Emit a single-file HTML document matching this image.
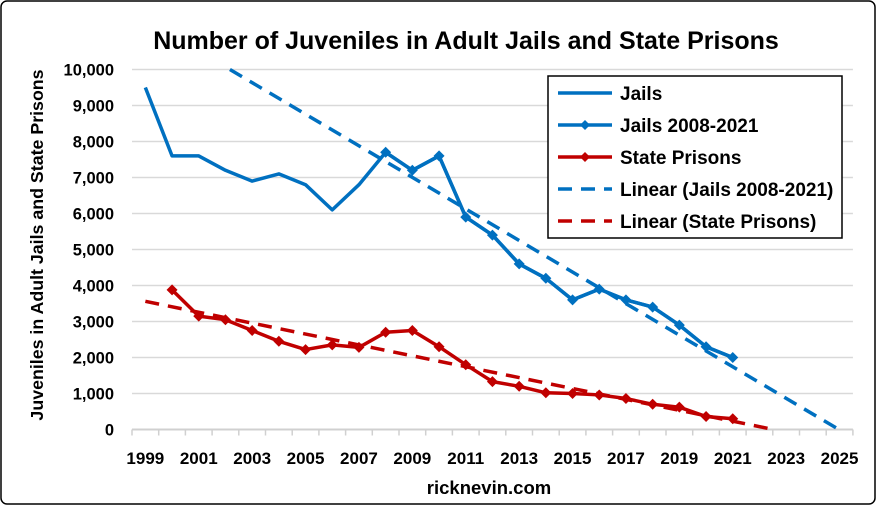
<!DOCTYPE html>
<html><head><meta charset="utf-8"><style>
body{margin:0;background:#fff;}
svg{display:block;font-family:"Liberation Sans",sans-serif;}
</style></head><body>
<svg id="c" width="876" height="505">
<rect x="1" y="1" width="874" height="503" rx="6" fill="#fff" stroke="#000" stroke-width="1.5"/>
<text x="466" y="49" text-anchor="middle" font-size="25" font-weight="bold">Number of Juveniles in Adult Jails and State Prisons</text>
<text transform="translate(43,245) rotate(-90)" text-anchor="middle" font-size="17.8" font-weight="bold">Juveniles in Adult Jails and State Prisons</text>
<text x="489" y="494" text-anchor="middle" font-size="18.5" font-weight="bold">ricknevin.com</text>
<g id="grid"></g><g id="axes"></g><g id="series"></g>
<g>
<rect x="548" y="76" width="294" height="162" fill="#fff" stroke="#000" stroke-width="1.5"/>
<g font-size="19" font-weight="bold">
<line x1="558" y1="93" x2="612" y2="93" stroke="#0070C0" stroke-width="3.5"/>
<text x="620" y="100">Jails</text>
<line x1="558" y1="125" x2="612" y2="125" stroke="#0070C0" stroke-width="3.5"/>
<path d="M585 120 L590 125 L585 130 L580 125Z" fill="#0070C0"/>
<text x="620" y="132">Jails 2008-2021</text>
<line x1="558" y1="157" x2="612" y2="157" stroke="#C00000" stroke-width="3.5"/>
<path d="M585 152 L590 157 L585 162 L580 157Z" fill="#C00000"/>
<text x="620" y="164">State Prisons</text>
<line x1="558" y1="189" x2="612" y2="189" stroke="#0070C0" stroke-width="3.5" stroke-dasharray="14,9"/>
<text x="620" y="196">Linear (Jails 2008-2021)</text>
<line x1="558" y1="221" x2="612" y2="221" stroke="#C00000" stroke-width="3.5" stroke-dasharray="14,9"/>
<text x="620" y="228">Linear (State Prisons)</text>
</g></g>
</svg>
<script>
const years=[];for(let y=1999;y<=2025;y++)years.push(y);
const yTicks=[0,1000,2000,3000,4000,5000,6000,7000,8000,9000,10000];
const jailYears=[1999,2000,2001,2002,2003,2004,2005,2006,2007,2008,2009,2010,2011,2012,2013,2014,2015,2016,2017,2018,2019,2020,2021];
const jailVals=[9500,7600,7600,7200,6900,7100,6800,6100,6800,7700,7200,7600,5900,5400,4600,4200,3600,3900,3600,3400,2900,2300,2000];
const jail2Years=[2008,2009,2010,2011,2012,2013,2014,2015,2016,2017,2018,2019,2020,2021];
const jail2Vals=[7700,7200,7600,5900,5400,4600,4200,3600,3900,3600,3400,2900,2300,2000];
const stateYears=[2000,2001,2002,2003,2004,2005,2006,2007,2008,2009,2010,2011,2012,2013,2014,2015,2016,2017,2018,2019,2020,2021];
const stateVals=[3880,3150,3050,2750,2450,2220,2350,2280,2700,2750,2300,1800,1330,1200,1020,1000,960,860,700,620,360,300];
const NS="http://www.w3.org/2000/svg";
const L=132,CW=26.7,Y0=429.5,PX=0.036;
const X=y=>L+CW*(y-1999+0.5), Y=v=>Y0-v*PX;
function mk(t,a,p){const e=document.createElementNS(NS,t);for(const k in a)e.setAttribute(k,a[k]);p.appendChild(e);return e;}
const grid=document.getElementById('grid'),axes=document.getElementById('axes'),ser=document.getElementById('series');
const R=L+CW*years.length;
yTicks.forEach(v=>{
 const g=mk('line',{x1:L,x2:R,y1:Y(v),y2:Y(v),stroke:v?'#d9d9d9':'#d0d0d0','stroke-width':v?1.5:2},grid);
 
 
 const t=mk('text',{x:L-18,y:Y(v)+6,'text-anchor':'end','font-size':16.5,'font-weight':'bold'},axes);t.textContent=v.toLocaleString('en-US');
 
 
});
for(let i=0;i<=years.length;i++){const tk=mk('line',{x1:L+CW*i,x2:L+CW*i,y1:Y0,y2:Y0+6,stroke:'#d0d0d0','stroke-width':1.5},axes);
 
 }
years.forEach(y=>{if((y-1999)%2)return;const t=mk('text',{x:X(y),y:464,'text-anchor':'middle','font-size':17,'font-weight':'bold'},axes);t.textContent=y;
 
 });
function reg(xs,vs){const n=xs.length;let mx=0,my=0;xs.forEach((x,i)=>{mx+=x;my+=vs[i];});mx/=n;my/=n;let sxy=0,sxx=0;xs.forEach((x,i)=>{sxy+=(x-mx)*(vs[i]-my);sxx+=(x-mx)*(x-mx);});const b=sxy/sxx;return [b,my-b*mx];}
function trend(xs,vs,col,name){const [b,a]=reg(xs,vs);let x1=1999,x2=2025,f=x=>a+b*x;
 if(f(x1)>10000)x1=(10000-a)/b; if(f(x2)<0)x2=-a/b;
 const l=mk('line',{x1:X(x1),y1:Y(f(x1)),x2:X(x2),y2:Y(f(x2)),stroke:col,'stroke-width':3.5,'stroke-dasharray':'14,9'},ser);
 
 }
function line(xs,vs,col,name,markers){const p=mk('polyline',{points:xs.map((x,i)=>X(x)+','+Y(vs[i])).join(' '),fill:'none',stroke:col,'stroke-width':3.5,'stroke-linejoin':'round'},ser);
 
 
 if(markers)xs.forEach((x,i)=>{const cx=X(x),cy=Y(vs[i]);const m=mk('path',{d:`M${cx} ${cy-5.5}L${cx+5.5} ${cy}L${cx} ${cy+5.5}L${cx-5.5} ${cy}Z`,fill:col},ser);
 
 });}
line(jailYears,jailVals,'#0070C0','jails-line',false);
trend(jail2Years,jail2Vals,'#0070C0','jails-trend-line');
trend(stateYears,stateVals,'#C00000','state-trend-line');
line(jail2Years,jail2Vals,'#0070C0','jails-2008-2021-line',true);
line(stateYears,stateVals,'#C00000','state-prisons-line',true);
</script>
</body></html>
